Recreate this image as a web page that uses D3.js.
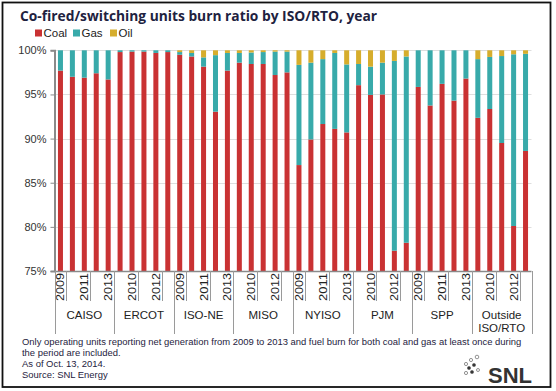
<!DOCTYPE html>
<html lang="en">
<head>
    <meta charset="UTF-8" />
    <title>Co-fired/switching units burn ratio</title>
    <style>
        body, html { margin: 0; padding: 0; background: white; }
        svg { display: block; }
    </style>
</head>
<body>
    <svg id="svg" width="556" height="391"></svg>
    <script src="https://cdn.jsdelivr.net/npm/d3@7"></script>
    <script>
        // Chart data
        const regions = ["CAISO", "ERCOT", "ISO-NE", "MISO", "NYISO", "PJM", "SPP", "Outside ISO/RTO"];
        const years = ["2009", "2010", "2011", "2012", "2013"];
        const coal = [
            97.7, 97.0, 96.9, 97.4, 96.7,
            99.8, 99.85, 99.85, 99.7, 99.8,
            99.5, 99.3, 98.15, 93.05, 97.7,
            98.6, 98.45, 98.45, 97.2, 97.5,
            87.0, 89.9, 91.65, 91.1, 90.7,
            96.05, 94.95, 95.0, 77.3, 78.2,
            95.85, 93.75, 96.2, 94.3, 96.8,
            92.35, 93.35, 89.5, 80.1, 88.6
        ];
        const gas = [
            2.3, 3.0, 3.1, 2.6, 3.3,
            0.2, 0.15, 0.15, 0.3, 0.2,
            0.3, 0.4, 1.05, 6.4, 2.0,
            1.1, 1.3, 1.35, 2.65, 2.35,
            11.35, 8.7, 7.35, 8.6, 7.7,
            2.4, 3.2, 3.6, 21.5, 21.1,
            4.15, 6.25, 3.8, 5.7, 3.2,
            6.65, 5.9, 9.85, 19.45, 11.0
        ];
        const oil = [
            0, 0, 0, 0, 0,
            0, 0, 0, 0, 0,
            0.2, 0.3, 0.8, 0.55, 0.3,
            0.3, 0.25, 0.2, 0.15, 0.15,
            1.65, 1.4, 1.0, 0.3, 1.6,
            1.55, 1.85, 1.4, 1.2, 0.7,
            0, 0, 0, 0, 0,
            1.0, 0.75, 0.65, 0.45, 0.4
        ];
        const yTicks = [75, 80, 85, 90, 95, 100];
        const series = ["Coal", "Gas", "Oil"];
        const colors = { Coal: "#c93233", Gas: "#38aaaa", Oil: "#d6ad2c" };

        const rows = [];
        regions.forEach((r, i) => {
            years.forEach((y, j) => {
                const k = i * 5 + j;
                rows.push({ key: r + "|" + y, region: r, year: y, idx: k, Coal: coal[k], Gas: gas[k], Oil: oil[k] });
            });
        });

        const svg = d3.select("#svg");
        const textColor = "#1e2240";

        svg.append("rect")
            .attr("x", 2.5).attr("y", 2.5)
            .attr("width", 548).attr("height", 384.5)
            .attr("fill", "white")
            .attr("stroke", "#111")
            .attr("stroke-width", 1.8);

        // Title
        svg.append("text")
            .attr("x", 20).attr("y", 21)
            .attr("font-family", "Open Sans")
            .attr("font-weight", "bold")
            .attr("font-size", 15)
            .attr("textLength", 357)
            .attr("lengthAdjust", "spacingAndGlyphs")
            .attr("fill", textColor)
            .text("Co-fired/switching units burn ratio by ISO/RTO, year");

        // Legend
        const legendX = [35, 73, 110];
        series.forEach((s, i) => {
            svg.append("rect")
                .attr("x", legendX[i]).attr("y", 29.5)
                .attr("width", 7).attr("height", 7)
                .attr("fill", colors[s]);
            svg.append("text")
                .attr("x", legendX[i] + 8.5).attr("y", 37)
                .attr("font-family", "Liberation Sans")
                .attr("font-size", 11.5)
                .attr("fill", "#222")
                .text(s);
        });

        // Scales
        const plotLeft = 54.5, plotRight = 531.5, plotTop = 50.3, plotBottom = 271;
        const x = d3.scaleBand()
            .domain(rows.map(d => d.key))
            .range([plotLeft, plotRight])
            .paddingInner(0.58)
            .paddingOuter(0.29);
        const y = d3.scaleLinear()
            .domain([75, 100])
            .range([plotBottom, plotTop])
            .clamp(true);

        // Gridlines
        svg.append("g")
            .selectAll("line")
            .data(yTicks.filter(t => t > 75))
            .enter()
            .append("line")
            .attr("x1", plotLeft).attr("x2", plotRight)
            .attr("y1", d => Math.round(y(d)) + 0.5)
            .attr("y2", d => Math.round(y(d)) + 0.5)
            .attr("stroke", "#dedede")
            .attr("stroke-width", 1);

        // Stacked bars
        const stacked = d3.stack().keys(series)(rows);
        svg.append("g")
            .selectAll("g")
            .data(stacked)
            .enter()
            .append("g")
            .attr("fill", d => colors[d.key])
            .selectAll("rect")
            .data(d => d)
            .enter()
            .append("rect")
            .attr("x", d => x(d.data.key))
            .attr("width", x.bandwidth())
            .attr("y", d => y(d[1]))
            .attr("height", d => Math.max(0, y(d[0]) - y(d[1])));

        // y-axis
        const yAxis = svg.append("g")
            .attr("transform", `translate(${plotLeft},0)`)
            .call(d3.axisLeft(y).tickValues(yTicks).tickSize(4).tickFormat(d => d + "%"));
        yAxis.select(".domain").attr("stroke", "#8a8a8a").attr("stroke-width", 2);
        yAxis.selectAll(".tick line").attr("stroke", "#8a8a8a");
        yAxis.selectAll(".tick text")
            .attr("x", -8)
            .attr("font-family", "Liberation Sans")
            .attr("font-size", 11)
            .attr("fill", "#333");

        // x-axis: baseline, year ticks and group separators
        const xa = svg.append("g");
        xa.append("line")
            .attr("x1", plotLeft).attr("x2", plotRight)
            .attr("y1", plotBottom + 0.5).attr("y2", plotBottom + 0.5)
            .attr("stroke", "#8a8a8a").attr("stroke-width", 1.5);

        const step = x.step();
        const boundaries = d3.range(0, rows.length + 1);
        xa.selectAll("line.tk")
            .data(boundaries.filter(b => b % 5 === 0 || b % 2 === 1))
            .enter()
            .append("line")
            .attr("class", "tk")
            .attr("x1", b => Math.round(plotLeft + b * step) + 0.5)
            .attr("x2", b => Math.round(plotLeft + b * step) + 0.5)
            .attr("y1", plotBottom)
            .attr("y2", b => b % 5 === 0 ? 334 : 301)
            .attr("stroke", "#9a9a9a")
            .attr("stroke-width", 1);

        xa.selectAll("text.yr")
            .data(rows.filter(d => d.idx % 2 === 0))
            .enter()
            .append("text")
            .attr("class", "yr")
            .attr("transform", d => `translate(${x(d.key) + x.bandwidth() / 2 + 4},273) rotate(-90)`)
            .attr("text-anchor", "end")
            .attr("font-family", "Liberation Sans")
            .attr("font-size", 11)
            .attr("textLength", 28)
            .attr("lengthAdjust", "spacingAndGlyphs")
            .attr("fill", "#222")
            .text(d => d.year);

        regions.forEach((r, i) => {
            const cx = plotLeft + (i * 5 + 2.5) * step;
            const lines = r === "Outside ISO/RTO" ? ["Outside", "ISO/RTO"] : [r];
            lines.forEach((t, j) => {
                xa.append("text")
                    .attr("x", cx)
                    .attr("y", lines.length === 1 ? 319 : 319 + j * 13)
                    .attr("text-anchor", "middle")
                    .attr("font-family", "Liberation Sans")
                    .attr("font-size", 11.5)
                    .attr("fill", "#222")
                    .text(t);
            });
        });

        // Footnote
        const notes = [
            "Only operating units reporting net generation from 2009 to 2013 and fuel burn for both coal and gas at least once during",
            "the period are included.",
            "As of Oct. 13, 2014.",
            "Source: SNL Energy"
        ];
        const fn = svg.append("g");
        const noteEls = notes.map((t, i) => fn.append("text")
            .attr("x", 0)
            .attr("y", 345 + i * 11)
            .attr("font-family", "Liberation Sans")
            .attr("font-size", 9.8)
            .attr("fill", textColor)
            .text(t));
        const w0 = noteEls[0].node().getComputedTextLength();
        fn.attr("transform", `translate(22,0) scale(${500 / w0},1)`);

        // SNL logo
        const logo = svg.append("g");
        const dots = [[466, 364, 1.6, false], [471, 360, 1.6, false], [477, 357, 1.8, false],
                      [469, 368, 1.6, true], [474, 365, 1.6, true], [466, 373, 1.6, false],
                      [472, 372, 1.6, true], [478, 370, 1.5, false]];
        dots.forEach(d => {
            logo.append("circle")
                .attr("cx", d[0]).attr("cy", d[1]).attr("r", d[2])
                .attr("fill", d[3] ? "#333" : "white")
                .attr("stroke", "#666").attr("stroke-width", 0.7);
        });
        logo.append("text")
            .attr("x", 532).attr("y", 383)
            .attr("text-anchor", "end")
            .attr("font-family", "Liberation Sans")
            .attr("font-weight", "bold")
            .attr("font-size", 22)
            .attr("fill", "#333")
            .text("SNL");
    </script>
</body>
</html>
